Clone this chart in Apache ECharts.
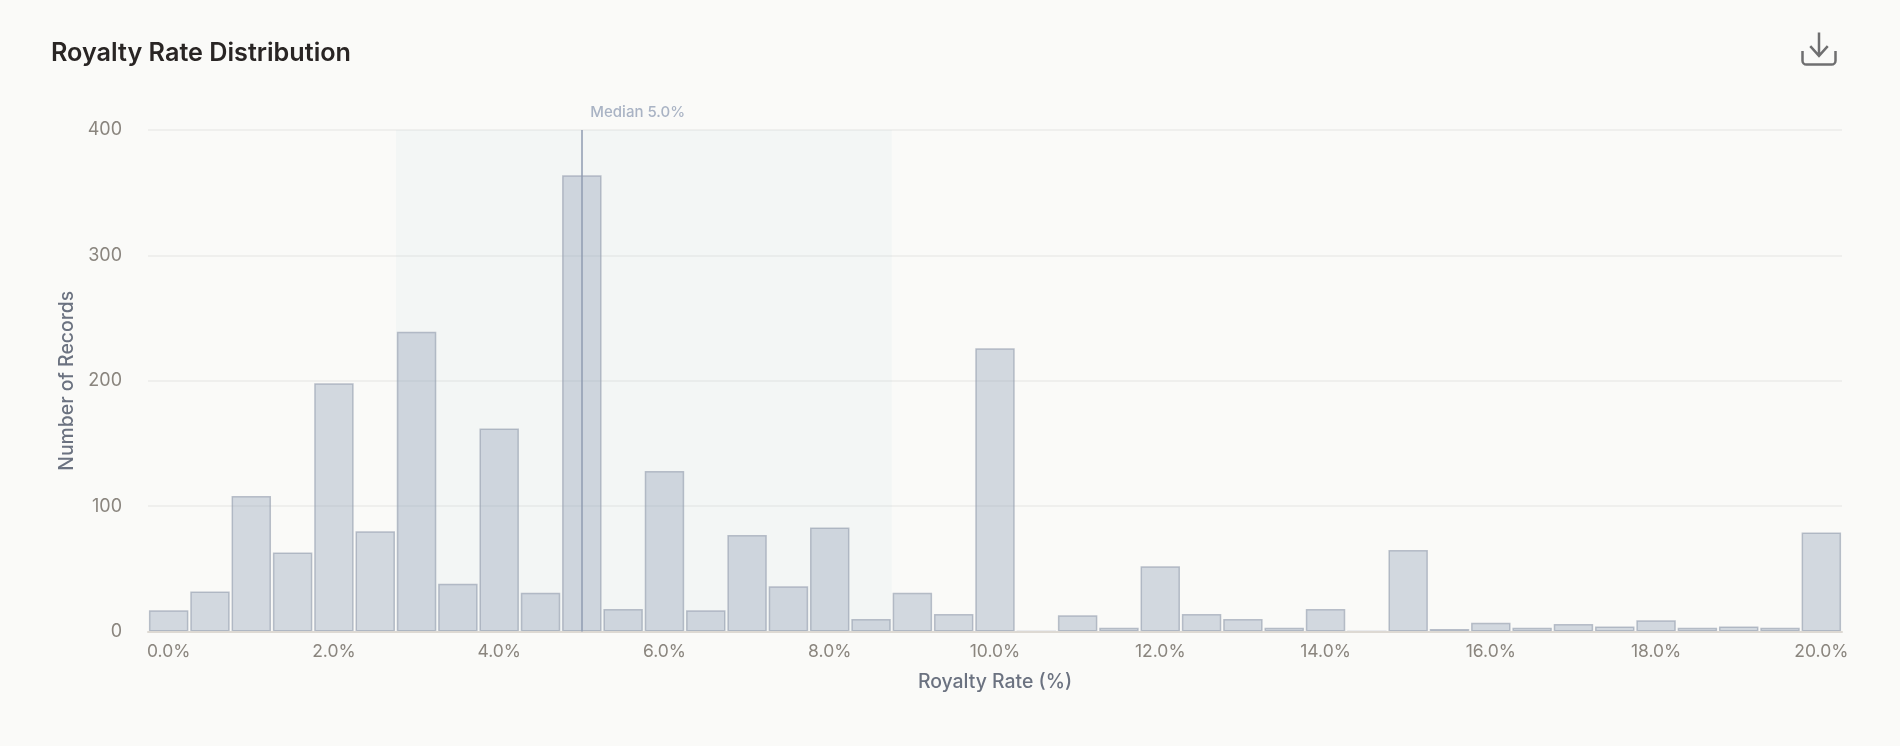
<!DOCTYPE html>
<html>
<head>
<meta charset="utf-8">
<title>Royalty Rate Distribution</title>
<style>html,body{margin:0;padding:0;background:#fafaf8}#chart{width:1900px;height:746px}</style>
<script src="https://cdn.jsdelivr.net/npm/echarts@6/dist/echarts.min.js"></script>
</head>
<body>
<div id="chart"></div>
<script>
var categories = ['0.0%','0.5%','1.0%','1.5%','2.0%','2.5%','3.0%','3.5%','4.0%','4.5%','5.0%','5.5%','6.0%','6.5%','7.0%','7.5%','8.0%','8.5%','9.0%','9.5%','10.0%','10.5%','11.0%','11.5%','12.0%','12.5%','13.0%','13.5%','14.0%','14.5%','15.0%','15.5%','16.0%','16.5%','17.0%','17.5%','18.0%','18.5%','19.0%','19.5%','20.0%'];
var records = [17,32,108,63,198,80,239,38,162,31,364,18,128,17,77,36,83,10,31,14,226,0,13,3,52,14,10,3,18,0,65,2,7,3,6,4,9,3,4,3,79];
var medianCategory = '5.0%';
var medianLabel = 'Median 5.0%';
var iqrRange = ['3.0%','8.5%'];
var titleText = 'Royalty Rate Distribution';
var xName = 'Royalty Rate (%)';
var yName = 'Number of Records';
var font = 'Inter';

var chart = echarts.init(document.getElementById('chart'), null, {renderer:'canvas'});
chart.setOption({
  backgroundColor:'#fafaf8',
  animation:false,
  textStyle:{fontFamily:font},
  title:{text:titleText,left:51,top:41,padding:0,textStyle:{fontFamily:font,fontSize:25.2,fontWeight:600,color:'#292524'}},
  toolbox:{right:62,top:30,itemSize:33,padding:0,showTitle:false,
    iconStyle:{color:'none',borderColor:'#6f6f70',borderWidth:2.5},
    emphasis:{iconStyle:{borderColor:'#6f6f70'}},
    feature:{saveAsImage:{title:'',icon:'path://M1 19V29a4 4 0 0 0 4 4H31a4 4 0 0 0 4-4V19M18 0V24M9 14L18 24L27 14'}}},
  grid:{left:148,right:58,top:130,bottom:114.5,containLabel:false},
  xAxis:{type:'category',data:categories,name:xName,nameLocation:'middle',nameGap:41,z:3,
    nameTextStyle:{fontFamily:font,fontSize:19.4,fontWeight:500,color:'#6b7280'},
    axisTick:{show:false},axisLine:{lineStyle:{color:'#ddd9d3',width:2}},
    axisLabel:{interval:3,margin:11,fontFamily:font,fontSize:17.5,color:'#8a857e'},
    splitLine:{show:false}},
  yAxis:{type:'value',min:0,max:400,interval:100,name:yName,nameLocation:'middle',nameGap:67,
    nameTextStyle:{fontFamily:font,fontSize:19.4,fontWeight:500,color:'#6b7280'},
    axisLine:{show:false},axisTick:{show:false},
    axisLabel:{margin:26,padding:[5,0,0,0],fontFamily:font,fontSize:18,color:'#8a857e'},
    splitLine:{lineStyle:{color:'#efefed',width:1.8}}},
  series:[{type:'bar',data:records,barCategoryGap:'4.5%',
    itemStyle:{color:'rgba(148,163,184,0.39)',borderColor:'rgba(148,158,175,0.62)',borderWidth:1.5},
    markArea:{silent:true,itemStyle:{color:'rgba(160,200,210,0.07)'},data:[[{xAxis:iqrRange[0]},{xAxis:iqrRange[1]}]]},
    markLine:{silent:true,symbol:'none',data:[{xAxis:medianCategory}],
      lineStyle:{color:'#8f9bb0',width:1.5,type:'solid'},
      label:{formatter:medianLabel,position:'end',align:'left',offset:[8.5,-5],fontFamily:font,fontSize:15,fontWeight:500,color:'#a9b3c4'}}
  }]
});
</script>
</body>
</html>
